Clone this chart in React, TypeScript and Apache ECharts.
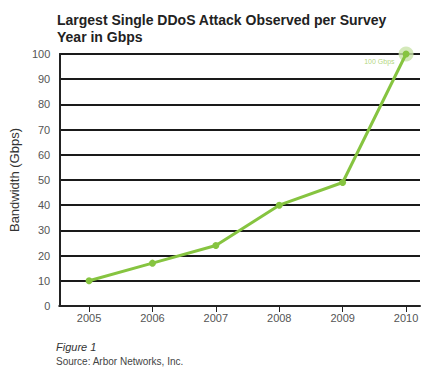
import React, { useEffect, useRef } from "react";
import * as echarts from "echarts";

const years = [2005, 2006, 2007, 2008, 2009, 2010];
const bandwidth = [10, 17, 24, 40, 49, 100];
const yTicks = [0, 10, 20, 30, 40, 50, 60, 70, 80, 90, 100];
const peakLabel = "100 Gbps";

const GREEN = "#86c440";
const FONT = "Liberation Sans, Arial, Helvetica, sans-serif";

export default function App() {
  const ref = useRef<HTMLDivElement>(null);
  useEffect(() => {
    if (!ref.current) return;
    const chart = echarts.init(ref.current, null, { renderer: "svg" });
    const points = years.map((y, i) => [y, bandwidth[i]]);
    const last = points[points.length - 1];
    chart.setOption({
      animation: false,
      backgroundColor: "#ffffff",
      textStyle: { fontFamily: FONT },
      title: {
        text: "Largest Single DDoS Attack Observed per Survey\nYear in Gbps",
        left: 52,
        top: 6,
        textStyle: {
          fontFamily: FONT,
          fontSize: 14,
          fontWeight: "bold",
          color: "#222222",
          lineHeight: 17,
        },
      },
      graphic: [
        {
          type: "text",
          left: 56,
          top: 341,
          style: { text: "Figure 1", font: `italic 11px ${FONT}`, fill: "#333333" },
        },
        {
          type: "text",
          left: 56,
          top: 356,
          style: { text: "Source: Arbor Networks, Inc.", font: `10px ${FONT}`, fill: "#444444" },
        },
      ],
      grid: { left: 56, right: 23, top: 54, bottom: 70 },
      xAxis: {
        type: "value",
        min: 2004.53,
        max: 2010.22,
        splitLine: { show: false },
        axisLine: { show: true, lineStyle: { color: "#222222", width: 2 } },
        axisTick: {
          show: true,
          length: 6,
          customValues: years,
          lineStyle: { color: "#222222", width: 1 },
        },
        axisLabel: {
          customValues: years,
          color: "#555555",
          fontSize: 11,
          fontFamily: FONT,
          margin: 6,
          formatter: (v: number) => String(Math.round(v)),
        },
      },
      yAxis: {
        type: "value",
        min: 0,
        max: 100,
        interval: 10,
        name: "Bandwidth (Gbps)",
        nameLocation: "middle",
        nameGap: 33,
        nameTextStyle: { fontFamily: FONT, fontSize: 13, color: "#333333" },
        axisLine: { show: true, lineStyle: { color: "#222222", width: 2 } },
        axisTick: { show: false },
        axisLabel: {
          color: "#555555",
          fontSize: 11,
          fontFamily: FONT,
          margin: 9,
          customValues: yTicks,
        },
        splitLine: { show: true, lineStyle: { color: "#1a1a1a", width: 2 } },
      },
      series: [
        {
          type: "scatter",
          data: [last],
          symbolSize: 15,
          itemStyle: { color: "#c9e4a9" },
          z: 2,
          clip: false,
          label: {
            show: true,
            position: "left",
            distance: 4,
            offset: [0, 7],
            formatter: peakLabel,
            color: "#9ccc5a",
            fontSize: 7,
            fontFamily: FONT,
          },
        },
        {
          type: "line",
          data: points,
          symbol: "circle",
          symbolSize: 7,
          showSymbol: true,
          clip: false,
          lineStyle: { color: GREEN, width: 3 },
          itemStyle: { color: GREEN },
          z: 3,
        },
      ],
    });
    return () => chart.dispose();
  }, []);
  return (
    <div
      ref={ref}
      style={{ position: "fixed", left: 0, top: 0, width: 443, height: 376 }}
    />
  );
}
